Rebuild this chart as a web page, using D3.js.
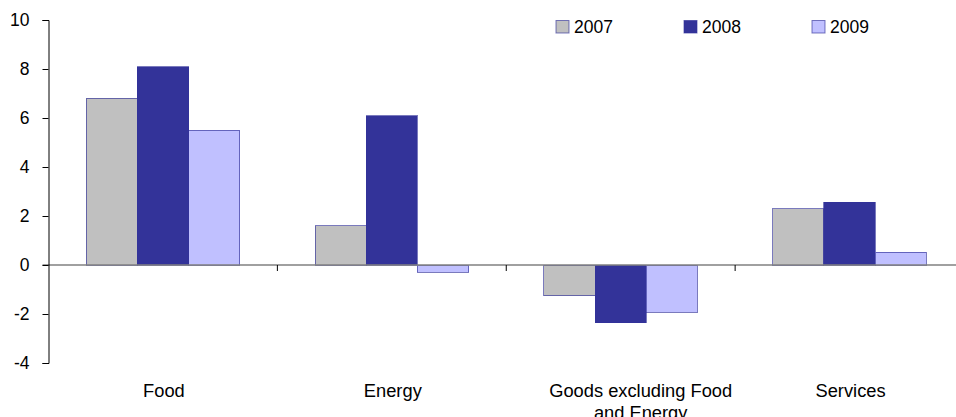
<!DOCTYPE html>
<html>
<head>
<meta charset="utf-8">
<script src="https://cdn.jsdelivr.net/npm/d3@7/dist/d3.min.js"></script>
<style>
  html, body { margin: 0; padding: 0; background: #fff; }
  svg { display: block; font-family: "Liberation Sans", Arial, sans-serif; }
</style>
</head>
<body>
<svg id="chart" width="956" height="417"></svg>
<script>
// Categories and yearly values (percent change)
const categories = ["Food", "Energy", "Goods excluding Food and Energy", "Services"];
const categoryLines = [["Food"], ["Energy"], ["Goods excluding Food", "and Energy"], ["Services"]];
const years = ["2007", "2008", "2009"];
const values2007 = [6.8, 1.6, -1.25, 2.3];
const values2008 = [8.1, 6.1, -2.35, 2.57];
const values2009 = [5.5, -0.3, -1.92, 0.53];
const yTicks = [-4, -2, 0, 2, 4, 6, 8, 10];

const seriesValues = [values2007, values2008, values2009];
const fills = ["#C0C0C0", "#333399", "#C0C0FF"];

const svg = d3.select("#chart");

const plotLeft = 48.5, plotRight = 964, plotTop = 20, plotBottom = 363;

const y = d3.scaleLinear().domain([-4, 10]).range([plotBottom, plotTop]);
const x0 = d3.scaleBand().domain(categories).range([plotLeft, plotRight]).paddingInner(0).paddingOuter(0);
const x1 = d3.scaleBand().domain(years).range([0, x0.bandwidth()]).paddingInner(0).paddingOuter(0.736);

// Bars
const groups = svg.append("g").selectAll("g")
  .data(categories)
  .join("g")
  .attr("transform", d => `translate(${x0(d)},0)`);

groups.selectAll("rect")
  .data((c, ci) => years.map((yr, si) => ({ yr, si, v: seriesValues[si][ci] })))
  .join("rect")
  .attr("x", d => x1(d.yr))
  .attr("width", x1.bandwidth())
  .attr("y", d => y(Math.max(0, d.v)))
  .attr("height", d => Math.abs(y(d.v) - y(0)))
  .attr("fill", d => fills[d.si])
  .attr("stroke", "#333399")
  .attr("stroke-opacity", 0.65)
  .attr("stroke-width", 1)
  .attr("shape-rendering", "crispEdges");

// Zero line
svg.append("line")
  .attr("x1", plotLeft - 6).attr("x2", plotRight)
  .attr("y1", y(0)).attr("y2", y(0))
  .attr("stroke", "#808080")
  .attr("stroke-width", 1.5);

// Category separators below the zero line
const bounds = categories.map(c => x0(c)).concat([plotRight]);
svg.append("g").selectAll("line")
  .data(bounds.slice(1))
  .join("line")
  .attr("x1", d => d).attr("x2", d => d)
  .attr("y1", y(0)).attr("y2", y(0) + 6)
  .attr("stroke", "#000")
  .attr("stroke-width", 1);

// Y axis (plain hyphen for negatives)
const yAxis = d3.axisLeft(y).tickValues(yTicks).tickFormat(d => String(d))
  .tickSizeOuter(0).tickSize(6).tickPadding(13);
const ya = svg.append("g")
  .attr("transform", `translate(${plotLeft},0)`)
  .call(yAxis);
ya.select(".domain").attr("stroke", "#000");
ya.selectAll(".tick line").attr("stroke", "#000");
ya.selectAll(".tick text")
  .attr("font-size", 17.5)
  .attr("font-family", "Liberation Sans, Arial, sans-serif")
  .attr("fill", "#000");

// Category labels; the two-line label sits a little right of its band centre
const labelShift = d => (categoryLines[categories.indexOf(d)].length > 1 ? 20 : 1);
const labels = svg.append("g").selectAll("text")
  .data(categories)
  .join("text")
  .attr("text-anchor", "middle")
  .attr("font-size", 18.3)
  .attr("fill", "#000")
  .attr("x", d => x0(d) + x0.bandwidth() / 2 + labelShift(d))
  .attr("y", 396.5);
labels.each(function (d, i) {
  const t = d3.select(this);
  categoryLines[i].forEach((line, li) => {
    t.append("tspan")
      .attr("x", x0(d) + x0.bandwidth() / 2 + labelShift(d))
      .attr("dy", li === 0 ? 0 : 22)
      .text(line);
  });
});

// Legend
const legendX = [556, 684, 812];
const legend = svg.append("g").selectAll("g")
  .data(years)
  .join("g")
  .attr("transform", (d, i) => `translate(${legendX[i]},20.5)`);
legend.append("rect")
  .attr("width", 13).attr("height", 12.5)
  .attr("fill", (d, i) => fills[i])
  .attr("stroke", "#333399")
  .attr("stroke-opacity", 0.65);
legend.append("text")
  .attr("x", 18).attr("y", 12)
  .attr("font-size", 17.5)
  .attr("fill", "#000")
  .text(d => d);
</script>
</body>
</html>
